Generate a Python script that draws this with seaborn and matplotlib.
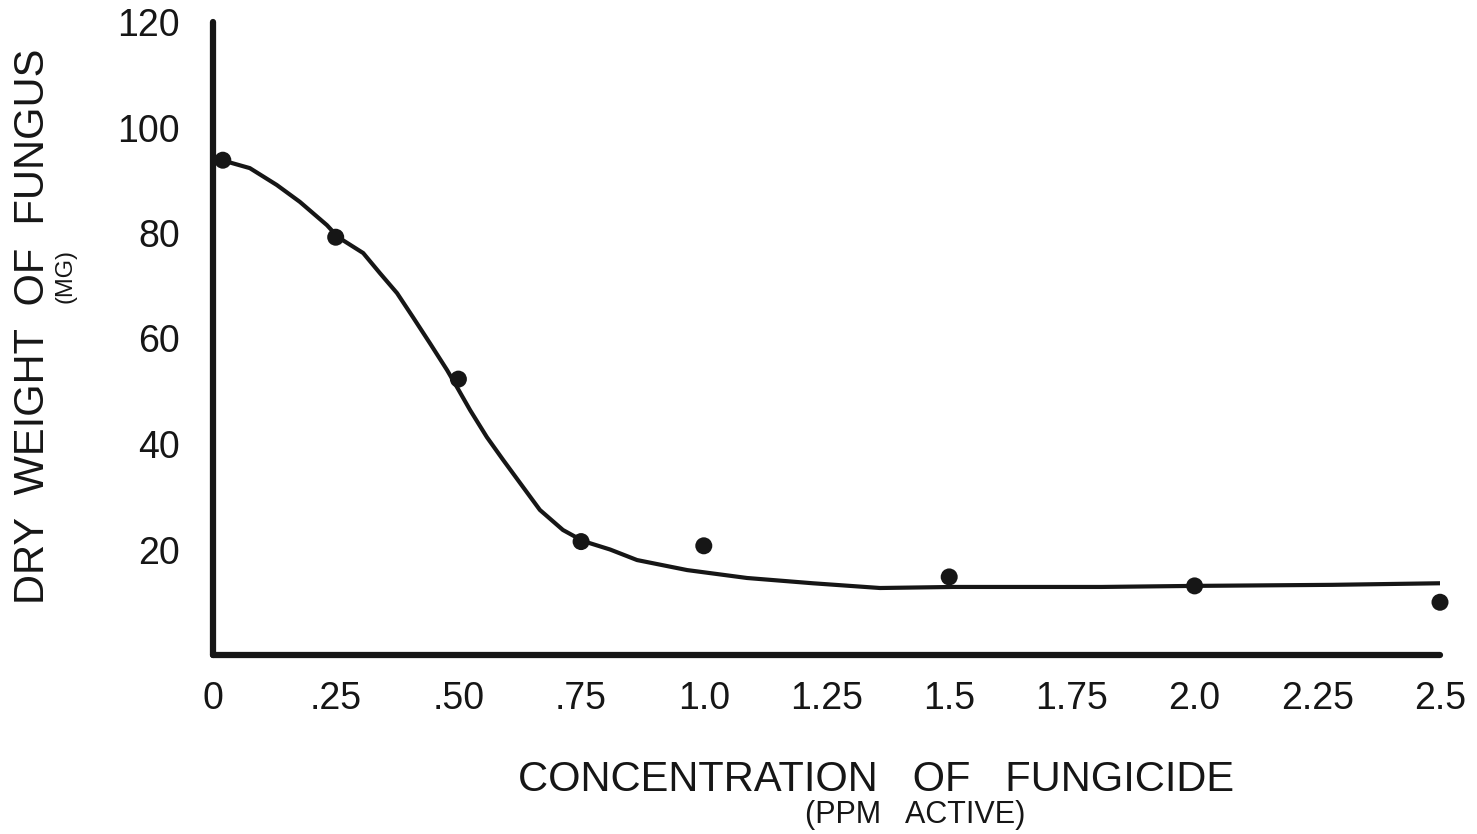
import matplotlib
matplotlib.use("Agg")
import matplotlib.pyplot as plt
import seaborn as sns
import pandas as pd

# Observed data points (concentration ppm, dry weight mg)
conc = [0.02, 0.25, 0.50, 0.75, 1.0, 1.5, 2.0, 2.5]
weight = [93.8, 79.2, 52.3, 21.5, 20.7, 14.8, 13.1, 10.0]

# Hand-drawn fitted curve
curve_x = [0.0, 0.018, 0.075, 0.130, 0.177, 0.232, 0.255, 0.306, 0.340, 0.375,
           0.407, 0.442, 0.477, 0.497, 0.524, 0.558, 0.591, 0.632, 0.666, 0.713,
           0.754, 0.809, 0.864, 0.966, 1.088, 1.222, 1.359, 1.508, 1.81, 2.0,
           2.28, 2.5]
curve_y = [94.6, 93.8, 92.3, 89.1, 85.9, 81.5, 79.2, 76.2, 72.4, 68.6,
           64.1, 59.1, 54.0, 50.8, 46.4, 41.3, 37.0, 31.8, 27.5, 23.7,
           21.6, 20.0, 18.0, 16.1, 14.6, 13.6, 12.7, 12.9, 12.9, 13.1,
           13.3, 13.6]

x_ticks = [0, 0.25, 0.5, 0.75, 1.0, 1.25, 1.5, 1.75, 2.0, 2.25, 2.5]
x_tick_labels = ["0", ".25", ".50", ".75", "1.0", "1.25", "1.5", "1.75", "2.0", "2.25", "2.5"]
y_ticks = [20, 40, 60, 80, 100, 120]
y_tick_labels = ["20", "40", "60", "80", "100", "120"]

sns.set_theme(style="white")
plt.rcParams["font.family"] = ["Liberation Sans", "DejaVu Sans"]

INK = "#161616"

fig = plt.figure(figsize=(14.77, 8.34), dpi=100)
ax = fig.add_axes([213 / 1477, 1 - 655 / 834, (1440 - 213) / 1477, (655 - 22) / 834])

pts = pd.DataFrame({"conc": conc, "weight": weight})
crv = pd.DataFrame({"x": curve_x, "y": curve_y})

sns.lineplot(data=crv, x="x", y="y", sort=False, color=INK, lw=3.0, ax=ax,
             solid_capstyle="round", solid_joinstyle="round")
sns.scatterplot(data=pts, x="conc", y="weight", color=INK, s=150,
                edgecolor="none", ax=ax, zorder=5, clip_on=False)

ax.set_xlim(0, 2.5)
ax.set_ylim(0, 120)
ax.set_xticks(x_ticks)
ax.set_xticklabels(x_tick_labels)
ax.set_yticks(y_ticks)
ax.set_yticklabels(y_tick_labels)

for s in ["top", "right"]:
    ax.spines[s].set_visible(False)
for s in ["left", "bottom"]:
    ax.spines[s].set_color(INK)
    ax.spines[s].set_linewidth(4.5)
    ax.spines[s].set_capstyle("round")

ax.tick_params(axis="both", which="major", direction="out", length=6, width=3,
               color=INK, labelsize=27, labelcolor=INK)
ax.tick_params(axis="x", pad=13)
ax.tick_params(axis="y", pad=18)
ax.set_xlabel("")
ax.set_ylabel("")
ax.grid(False)

# Axis titles
fig.text(33 / 1477, 1 - 326 / 834, "DRY  WEIGHT  OF  FUNGUS", rotation=90,
         ha="center", va="center", fontsize=30, color=INK)
fig.text(66 / 1477, 1 - 276 / 834, "(MG)", rotation=90,
         ha="center", va="center", fontsize=17, color=INK)
fig.text(876 / 1477, 1 - 780 / 834, "CONCENTRATION   OF   FUNGICIDE",
         ha="center", va="center", fontsize=30, color=INK)
fig.text(915 / 1477, 1 - 815 / 834, "(PPM   ACTIVE)",
         ha="center", va="center", fontsize=22, color=INK)

fig.savefig("out.png", dpi=100, facecolor="white")
